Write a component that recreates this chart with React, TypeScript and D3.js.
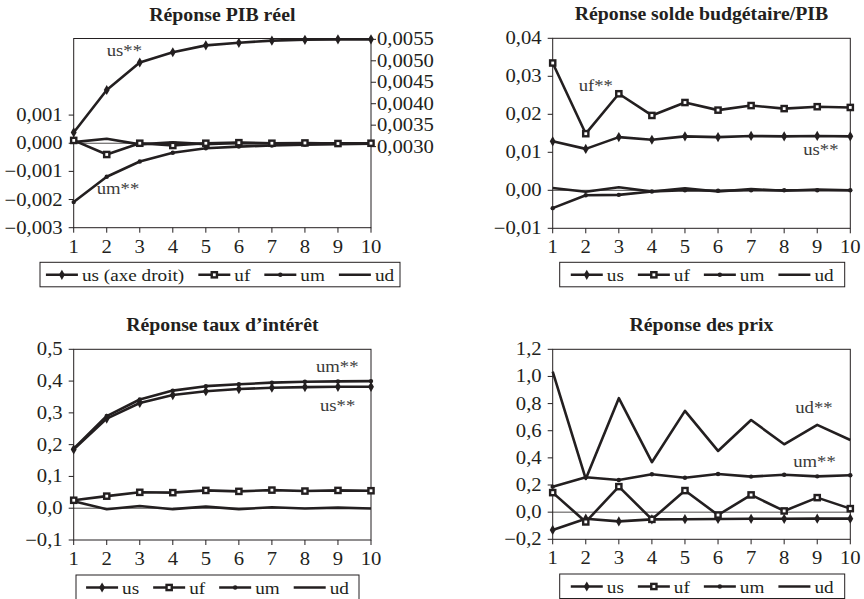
import React from 'react';
import * as d3 from 'd3';

const W = 864;
const H = 599;
const INK = '#231f20';
const FONT = '"Liberation Serif", "DejaVu Serif", serif';
// the reference glyphs are stretched horizontally
const SX = 1.15;

const periods = [1, 2, 3, 4, 5, 6, 7, 8, 9, 10];

// Réponse PIB réel (us on the right axis)
const pibUs = [0.00333, 0.00432, 0.00496, 0.0052, 0.00536, 0.00542, 0.00547, 0.00549, 0.0055, 0.0055];
const pibUf = [0.0001, -0.0004, 0.0, -0.00008, 0.0, 0.00002, 0.0, 0.00001, -0.00001, 0.0];
const pibUm = [-0.00209, -0.00119, -0.00065, -0.00034, -0.00018, -0.00012, -0.00008, -0.00005, -0.00003, -0.00002];
const pibUd = [0.00004, 0.00016, -0.00004, 0.00003, -0.00003, 0.00001, 0.0, 0.0, 0.0, 0.0];
const pibTicks = [-0.003, -0.002, -0.001, 0, 0.001];
const pibRightTicks = [0.003, 0.0035, 0.004, 0.0045, 0.005, 0.0055];

// Réponse solde budgétaire/PIB
const soldeUs = [0.0129, 0.0109, 0.014, 0.0133, 0.0142, 0.014, 0.0143, 0.0142, 0.0143, 0.0142];
const soldeUf = [0.0335, 0.0149, 0.0254, 0.0197, 0.0231, 0.0211, 0.0223, 0.0215, 0.022, 0.0218];
const soldeUm = [-0.0047, -0.0013, -0.0012, -0.0003, 0.0, -0.0001, 0.0, 0.0, 0.0, 0.0];
const soldeUd = [0.0006, -0.0004, 0.0008, -0.0003, 0.0005, -0.0003, 0.0003, -0.0001, 0.0002, 0.0];
const soldeTicks = [-0.01, 0, 0.01, 0.02, 0.03, 0.04];

// Réponse taux d'intérêt
const tauxUs = [0.185, 0.282, 0.331, 0.356, 0.368, 0.375, 0.379, 0.381, 0.382, 0.382];
const tauxUf = [0.025, 0.038, 0.05, 0.049, 0.056, 0.053, 0.057, 0.054, 0.056, 0.055];
const tauxUm = [0.187, 0.29, 0.342, 0.37, 0.384, 0.39, 0.395, 0.398, 0.399, 0.4];
const tauxUd = [0.022, -0.003, 0.007, -0.003, 0.005, -0.003, 0.003, -0.001, 0.002, -0.001];
const tauxTicks = [-0.1, 0, 0.1, 0.2, 0.3, 0.4, 0.5];

// Réponse des prix
const prixUs = [-0.131, -0.048, -0.068, -0.053, -0.052, -0.05, -0.049, -0.049, -0.048, -0.048];
const prixUf = [0.144, -0.072, 0.188, -0.053, 0.159, -0.021, 0.127, 0.009, 0.107, 0.026];
const prixUm = [0.188, 0.257, 0.237, 0.279, 0.254, 0.281, 0.262, 0.276, 0.264, 0.272];
const prixUd = [1.035, 0.245, 0.84, 0.368, 0.746, 0.451, 0.679, 0.5, 0.643, 0.532];
const prixTicks = [-0.2, 0, 0.2, 0.4, 0.6, 0.8, 1.0, 1.2];

const fr = (digits: number) => (v: number) => {
  const s = Math.abs(v).toFixed(digits).replace('.', ',');
  return (v < -1e-12 ? '\u2212' : '') + s;
};

const LEG_SIZE = 17;
const LEG_SX = 1.13;

const ctx = typeof document !== 'undefined' ? document.createElement('canvas').getContext('2d') : null;
function textWidth(s: string, size: number) {
  if (!ctx) return s.length * size * 0.5 * LEG_SX;
  ctx.font = `${size}px "Liberation Serif"`;
  return ctx.measureText(s).width * LEG_SX;
}

function T({ x, y, size = 18, anchor = 'start', weight = 'normal', fill = INK, sx = SX, children }: any) {
  return (
    <text
      transform={`translate(${x},${y}) scale(${sx},1)`}
      fontSize={size}
      textAnchor={anchor}
      fontWeight={weight}
      fill={fill}
      fontFamily={FONT}
    >
      {children}
    </text>
  );
}

function Marker({ kind, cx, cy }: { kind: string; cx: number; cy: number }) {
  if (kind === 'plus') {
    const d = d3.symbol(d3.symbolDiamond, 30)() as string;
    return <path d={d} transform={`translate(${cx},${cy})`} fill={INK} />;
  }
  if (kind === 'square') {
    return <rect x={cx - 2.6} y={cy - 2.6} width={5.2} height={5.2} fill="#fff" stroke={INK} strokeWidth={2.4} />;
  }
  if (kind === 'dot') {
    return <circle cx={cx} cy={cy} r={2.2} fill={INK} />;
  }
  return null;
}

const kinds: Record<string, string> = { us: 'plus', uf: 'square', um: 'dot', ud: 'none' };

function Panel({ p }: { p: any }) {
  const x = d3.scalePoint<number>().domain(periods).range([p.left, p.right]);
  const y = d3.scaleLinear().domain(p.yDomain).range([p.bottom, p.top]);
  const y2 = p.y2Domain ? d3.scaleLinear().domain(p.y2Domain).range([p.bottom, p.top]) : null;
  const fmt = fr(p.digits);

  // legend layout
  const seg = 32;
  const gap = 14;
  const items = p.legend.map((it: any) => ({ ...it, w: textWidth(it.label, LEG_SIZE) }));
  const total = d3.sum(items, (d: any) => seg + 4 + d.w) + gap * (items.length - 1);
  let cursor = (p.legendBox[0] + p.legendBox[1]) / 2 - total / 2;
  const placed = items.map((it: any) => {
    const o = { ...it, x0: cursor };
    cursor += seg + 4 + it.w + gap;
    return o;
  });

  return (
    <g>
      <T x={(p.left + p.right) / 2} y={p.top - 18} size={18} weight="bold" anchor="middle" sx={1.1}>
        {p.title}
      </T>
      <rect x={p.left} y={p.top} width={p.right - p.left} height={p.bottom - p.top} fill="none" stroke={INK} strokeWidth={1} />
      <line x1={p.left} x2={p.right} y1={y(0)} y2={y(0)} stroke={INK} strokeWidth={0.8} />
      {p.ticks.map((t: number) => (
        <g key={t}>
          <line x1={p.left - 5} x2={p.left} y1={y(t)} y2={y(t)} stroke={INK} />
          <T x={p.left - 11} y={y(t) + 6} anchor="end">{fmt(t)}</T>
        </g>
      ))}
      {y2 &&
        p.y2Ticks.map((t: number) => (
          <g key={'r' + t}>
            <line x1={p.right} x2={p.right + 5} y1={y2(t)} y2={y2(t)} stroke={INK} />
            <T x={p.right + 6} y={y2(t) + 6}>{fr(4)(t)}</T>
          </g>
        ))}
      {periods.map((d) => (
        <g key={'x' + d}>
          <line x1={x(d)} x2={x(d)} y1={p.bottom} y2={p.bottom + 5} stroke={INK} />
          <T x={x(d)} y={p.bottom + 25} anchor="middle">{d}</T>
        </g>
      ))}
      {p.series.map((s: any) => {
        const sc = s.right && y2 ? y2 : y;
        const path = d3
          .line<number>()
          .x((_, i) => x(periods[i]) as number)
          .y((v) => sc(v))(s.values) as string;
        return (
          <g key={s.name}>
            <path d={path} fill="none" stroke={INK} strokeWidth={2.6} strokeLinejoin="round" />
            {s.values.map((v: number, i: number) => (
              <Marker key={i} kind={kinds[s.name]} cx={x(periods[i]) as number} cy={sc(v)} />
            ))}
          </g>
        );
      })}
      {p.notes.map((n: any) => (
        <T key={n.text} x={x(n.at) as number + n.dx} y={(n.right && y2 ? y2 : y)(n.v)} size={17} sx={1.1} fill="#3a3a3a">
          {n.text}
        </T>
      ))}
      <rect
        x={p.legendBox[0]}
        y={p.legendTop}
        width={p.legendBox[1] - p.legendBox[0]}
        height={24.5}
        fill="none"
        stroke={INK}
        strokeWidth={1}
      />
      {placed.map((it: any) => (
        <g key={it.name}>
          <line x1={it.x0} x2={it.x0 + seg} y1={p.legendTop + 12.5} y2={p.legendTop + 12.5} stroke={INK} strokeWidth={2.6} />
          <Marker kind={kinds[it.name]} cx={it.x0 + seg / 2} cy={p.legendTop + 12.5} />
          <T x={it.x0 + seg + 4} y={p.legendTop + 19} size={LEG_SIZE} sx={LEG_SX}>{it.label}</T>
        </g>
      ))}
    </g>
  );
}

const stdLegend = [
  { name: 'us', label: 'us' },
  { name: 'uf', label: 'uf' },
  { name: 'um', label: 'um' },
  { name: 'ud', label: 'ud' },
];

const panels = [
  {
    title: 'Réponse PIB réel',
    left: 73.7, right: 371, top: 38.5, bottom: 227.7,
    yDomain: [-0.003, 0.00372], ticks: pibTicks, digits: 3,
    y2Domain: [0.00111, 0.00552], y2Ticks: pibRightTicks,
    series: [
      { name: 'ud', values: pibUd },
      { name: 'um', values: pibUm },
      { name: 'uf', values: pibUf },
      { name: 'us', values: pibUs, right: true },
    ],
    notes: [
      { text: 'us**', at: 2, v: 0.00512, dx: 0, right: true },
      { text: 'um**', at: 2, v: -0.0018, dx: -10 },
    ],
    legend: [{ name: 'us', label: 'us (axe droit)' }, ...stdLegend.slice(1)],
    legendBox: [40, 400], legendTop: 262.3,
  },
  {
    title: 'Réponse solde budgétaire/PIB',
    left: 552.7, right: 850.3, top: 38.3, bottom: 228.3,
    yDomain: [-0.01, 0.04], ticks: soldeTicks, digits: 2,
    series: [
      { name: 'ud', values: soldeUd },
      { name: 'um', values: soldeUm },
      { name: 'us', values: soldeUs },
      { name: 'uf', values: soldeUf },
    ],
    notes: [
      { text: 'uf**', at: 1, v: 0.0262, dx: 26 },
      { text: 'us**', at: 9, v: 0.0092, dx: -14 },
    ],
    legend: stdLegend,
    legendBox: [559.7, 844.7], legendTop: 262.3,
  },
  {
    title: 'Réponse taux d’intérêt',
    left: 73.7, right: 371, top: 349.3, bottom: 540,
    yDomain: [-0.1, 0.5], ticks: tauxTicks, digits: 1,
    series: [
      { name: 'ud', values: tauxUd },
      { name: 'uf', values: tauxUf },
      { name: 'us', values: tauxUs },
      { name: 'um', values: tauxUm },
    ],
    notes: [
      { text: 'um**', at: 9, v: 0.43, dx: -22 },
      { text: 'us**', at: 9, v: 0.307, dx: -18 },
    ],
    legend: stdLegend,
    legendBox: [76, 359], legendTop: 575,
  },
  {
    title: 'Réponse des prix',
    left: 552.7, right: 850.3, top: 349.3, bottom: 539.3,
    yDomain: [-0.2, 1.2], ticks: prixTicks, digits: 1,
    series: [
      { name: 'us', values: prixUs },
      { name: 'uf', values: prixUf },
      { name: 'um', values: prixUm },
      { name: 'ud', values: prixUd },
    ],
    notes: [
      { text: 'ud**', at: 9, v: 0.73, dx: -22 },
      { text: 'um**', at: 9, v: 0.335, dx: -24 },
    ],
    legend: stdLegend,
    legendBox: [559.7, 844.7], legendTop: 574,
  },
];

export default function App() {
  return (
    <svg
      width={W}
      height={H}
      viewBox={`0 0 ${W} ${H}`}
      style={{ position: 'absolute', left: 0, top: 0, background: '#fff' }}
    >
      <rect width={W} height={H} fill="#fff" />
      {panels.map((p) => (
        <Panel key={p.title} p={p} />
      ))}
    </svg>
  );
}
